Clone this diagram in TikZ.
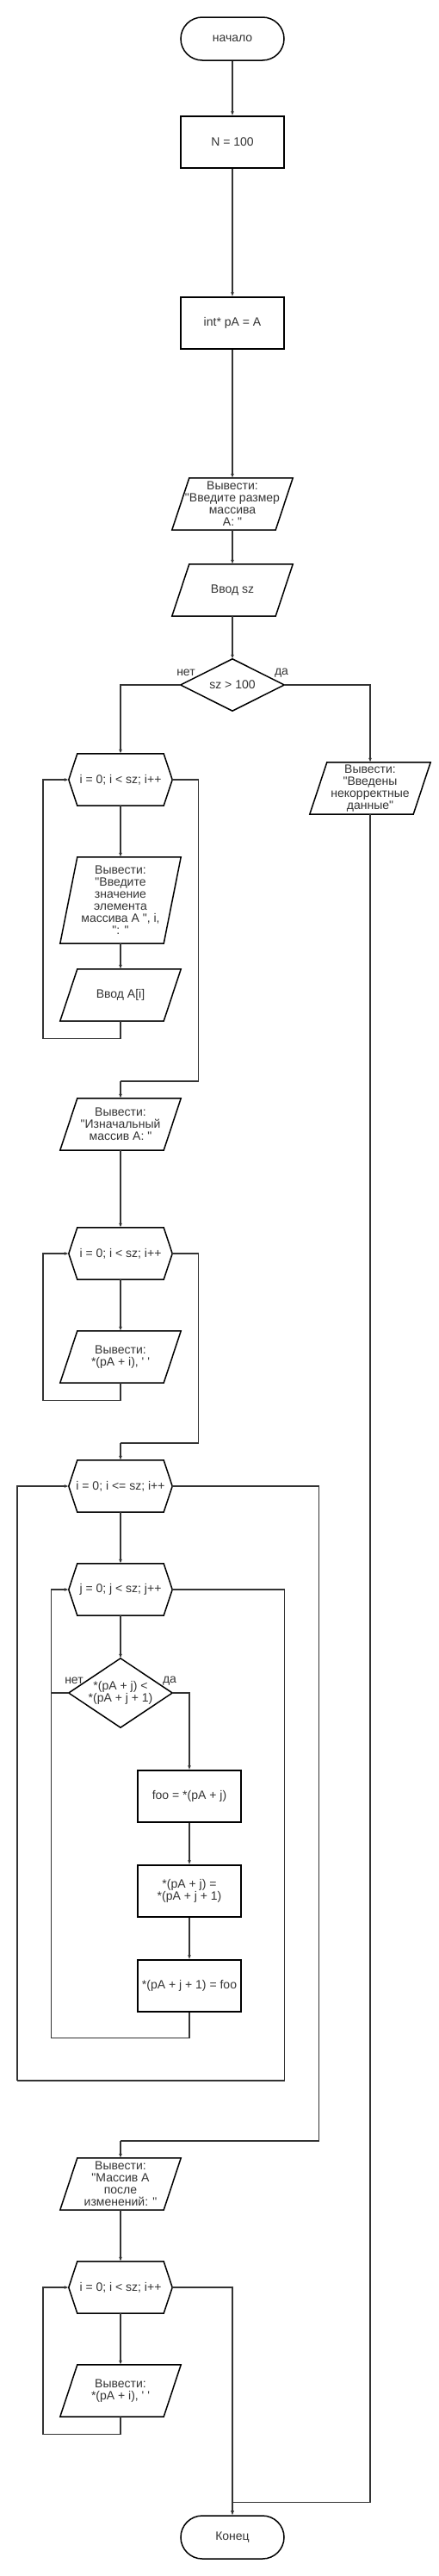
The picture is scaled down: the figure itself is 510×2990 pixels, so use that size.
\documentclass[tikz,border=0pt]{standalone}
\usepackage{fontspec}
\newfontfamily\arialf{Liberation Sans}
\usetikzlibrary{arrows.meta,calc}
\begin{document}
\begin{tikzpicture}[x=1pt,y=-1pt,
  base/.style={inner sep=0pt, align=center, font=\arialf\fontsize{14}{14}\selectfont, text=black!80},
  proc/.style={base, draw=black, line width=1.5pt, minimum width=120pt, minimum height=60pt},
  term/.style={proc, rounded corners=25pt, minimum height=50pt},
  iobox/.style={base, minimum width=140pt, minimum height=#1},
  iobox/.default=60pt,
  hexbox/.style={base, minimum width=120pt, minimum height=60pt},
  diabox/.style={base, minimum width=120pt, minimum height=#1},
  outline/.style={draw=black, line width=1.5pt, line join=miter},
  lbl/.style={base},
  ln/.style={draw=black!80, line width=1.2pt},
  arr/.style={ln, -{Latex[length=5pt,width=4pt]}}
]
\newcommand\ioshape[1]{\draw[outline] ([xshift=20pt]#1.north west) -- (#1.north east) -- ([xshift=-20pt]#1.south east) -- (#1.south west) -- cycle;}
\newcommand\hexshape[1]{\draw[outline] ([xshift=10pt]#1.north west) -- ([xshift=-10pt]#1.north east) -- (#1.east) -- ([xshift=-10pt]#1.south east) -- ([xshift=10pt]#1.south west) -- (#1.west) -- cycle;}
\newcommand\diashape[1]{\draw[outline] (#1.north) -- (#1.east) -- (#1.south) -- (#1.west) -- cycle;}
\useasboundingbox (0,0) rectangle (510,2990);

% nodes
\node[term] (start) at (270,45) {начало};
\node[proc] (n1) at (270,165) {N = 100};
\node[proc] (n2) at (270,375) {int* pA = A};
\node[iobox] (o1) at (270,585) {Вывести:\\"Введите размер\\массива\\A: "};
\node[iobox] (in1) at (270,685) {Ввод sz};
\node[diabox=60pt] (d1) at (270,795) {sz > 100};
\node[hexbox] (l1) at (140,905) {i = 0; i < sz; i++};
\node[iobox=100pt] (o2) at (140,1045) {Вывести:\\"Введите\\значение\\элемента\\массива A ", i,\\": "};
\node[iobox] (in2) at (140,1155) {Ввод A[i]};
\node[iobox] (err) at (430,915) {Вывести:\\"Введены\\некорректные\\данные"};
\node[iobox] (o3) at (140,1305) {Вывести:\\"Изначальный\\массив A: "};
\node[hexbox] (l2) at (140,1455) {i = 0; i < sz; i++};
\node[iobox] (o4) at (140,1575) {Вывести:\\*(pA + i), ' '};
\node[hexbox] (l3) at (140,1725) {i = 0; i <= sz; i++};
\node[hexbox] (l4) at (140,1845) {j = 0; j < sz; j++};
\node[diabox=80pt] (d2) at (140,1965) {*(pA + j) <\\*(pA + j + 1)};
\node[proc] (b1) at (220,2085) {foo = *(pA + j)};
\node[proc] (b2) at (220,2195) {*(pA + j) =\\*(pA + j + 1)};
\node[proc] (b3) at (220,2305) {*(pA + j + 1) = foo};
\node[iobox] (o5) at (140,2535) {Вывести:\\"Массив A\\после\\изменений: "};
\node[hexbox] (l5) at (140,2655) {i = 0; i < sz; i++};
\node[iobox] (o6) at (140,2775) {Вывести:\\*(pA + i), ' '};
\node[term] (end) at (270,2945) {Конец};

\ioshape{o1} \ioshape{in1} \ioshape{o2} \ioshape{in2} \ioshape{err}
\ioshape{o3} \ioshape{o4} \ioshape{o5} \ioshape{o6}
\hexshape{l1} \hexshape{l2} \hexshape{l3} \hexshape{l4} \hexshape{l5}
\diashape{d1} \diashape{d2}

\node[lbl] (no1) at (216,781) {нет};
\node[lbl] (yes1) at (327,781) {да};
\node[lbl] (no2) at (86,1951) {нет};
\node[lbl] (yes2) at (197,1951) {да};

% bend coordinates
\coordinate (c1) at (140,1255);
\coordinate (c2) at (140,1675);
\coordinate (c3) at (140,2485);
\coordinate (c4) at (20,2415);

% connectors
\draw[arr] (start) -- (n1);
\draw[arr] (n1) -- (n2);
\draw[arr] (n2) -- (o1);
\draw[arr] (o1) -- (in1);
\draw[arr] (in1) -- (d1);
\draw[arr] (d1.west) -| (l1.north);
\draw[arr] (d1.east) -| (err.north);
\draw[arr] (l1) -- (o2);
\draw[arr] (o2) -- (in2);
\draw[arr] (in2.south) -- ++(0,20) -- ++(-90,0) |- (l1.west);
\draw[ln] (l1.east) -- ++(30,0) |- (c1);
\draw[arr] (c1) -- (o3.north);
\draw[arr] (o3) -- (l2);
\draw[arr] (l2) -- (o4);
\draw[arr] (o4.south) -- ++(0,20) -- ++(-90,0) |- (l2.west);
\draw[ln] (l2.east) -- ++(30,0) |- (c2);
\draw[arr] (c2) -- (l3.north);
\draw[arr] (l3) -- (l4);
\draw[arr] (l4) -- (d2);
\draw[arr] (d2.east) -| (b1.north);
\draw[arr] (b1) -- (b2);
\draw[arr] (b2) -- (b3);
\draw[ln] (d2.west) -- ++(-20,0);
\draw[arr] (b3.south) -- ++(0,30) -| ([xshift=-20pt]l4.west) -- (l4.west);
\draw[ln] (l4.east) -- ++(130,0) |- (c4);
\draw[arr] (c4) |- (l3.west);
\draw[ln] (l3.east) -- ++(170,0) |- (c3);
\draw[arr] (c3) -- (o5.north);
\draw[arr] (o5) -- (l5);
\draw[arr] (l5) -- (o6);
\draw[arr] (o6.south) -- ++(0,20) -- ++(-90,0) |- (l5.west);
\draw[arr] (l5.east) -| (end.north);
\draw[arr] (err.south) |- ([yshift=15pt]end.north) -- (end.north);
\end{tikzpicture}
\end{document}
